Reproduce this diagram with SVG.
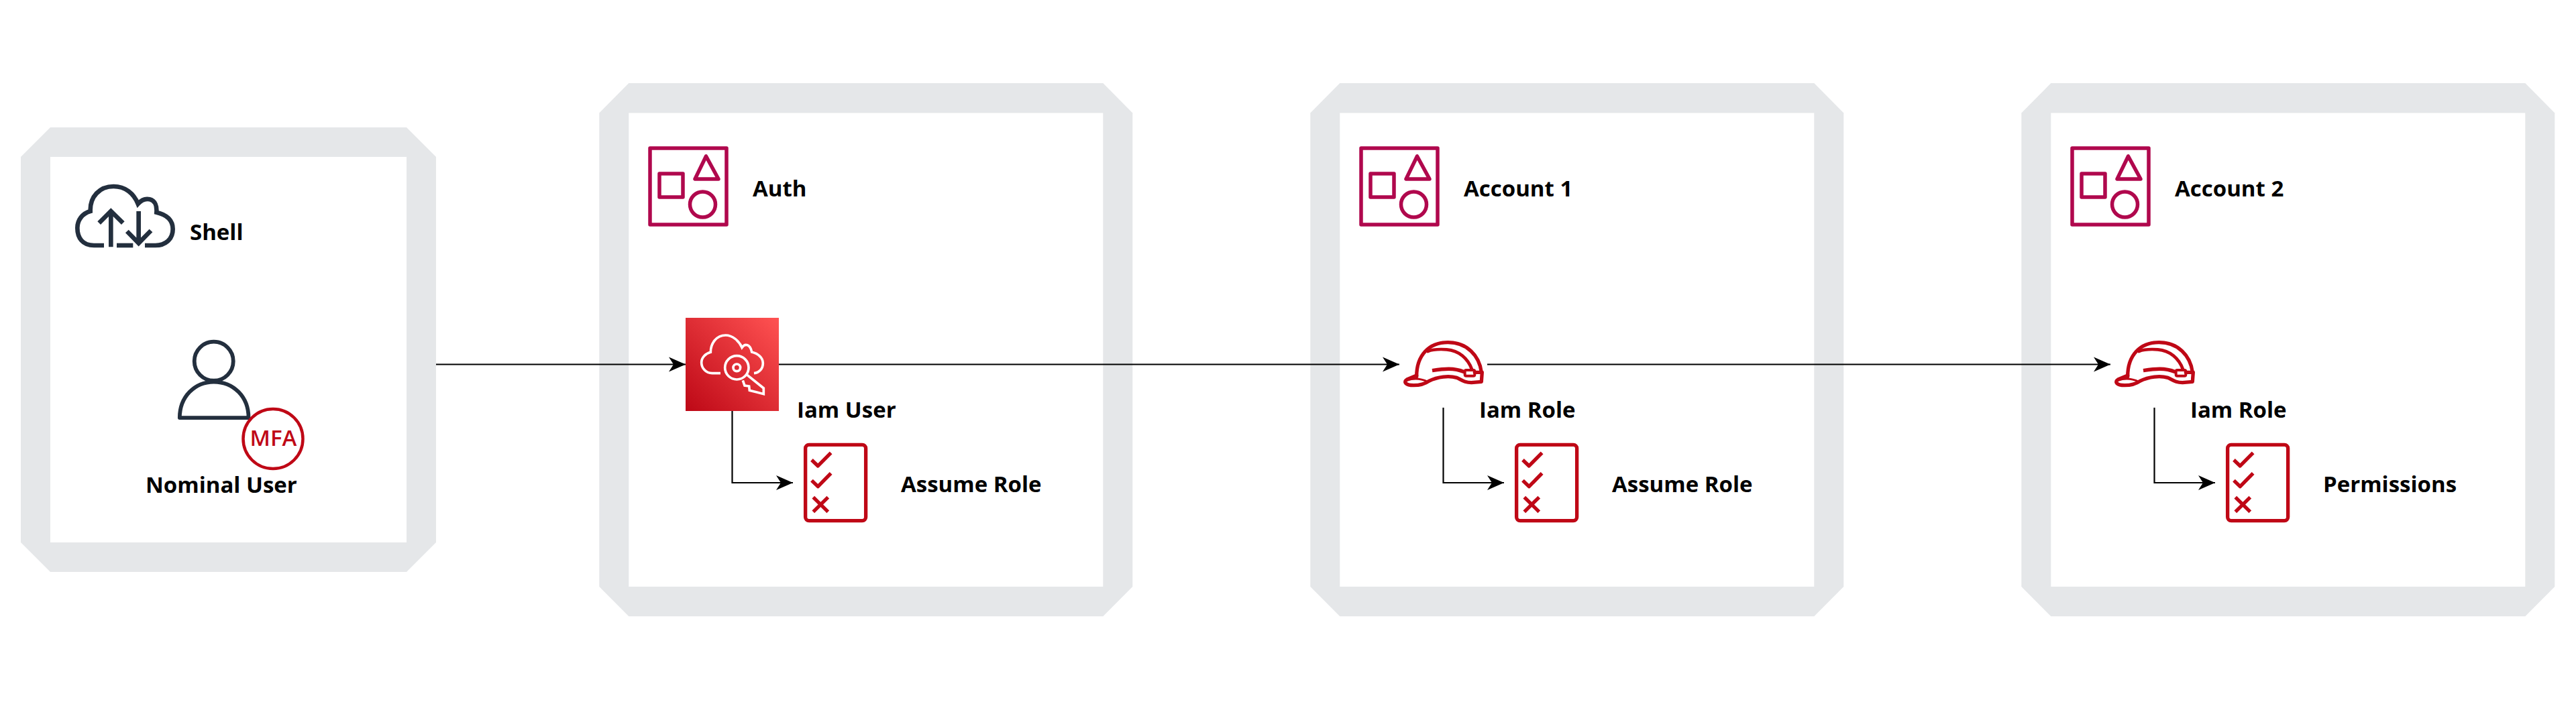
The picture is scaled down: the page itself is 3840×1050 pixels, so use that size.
<svg xmlns="http://www.w3.org/2000/svg" xmlns:xlink="http://www.w3.org/1999/xlink" width="3840" height="1050" viewBox="0 0 3840 1050">
<style>
.lbl{font-family:"Open Sans","Noto Sans","Liberation Sans",sans-serif;font-weight:700;font-size:33px;fill:#000}
.conn{fill:none;stroke:#000;stroke-width:2.2}
.acc{fill:none;stroke:#b0084d;stroke-width:5.500;stroke-linejoin:round}
.red{fill:none;stroke:#bf0816;stroke-linejoin:round}
.dark{fill:none;stroke:#232f3e}
.frame{fill:#e5e7e9}
.inner{fill:#fff}
</style>
<defs>
<marker id="arrow" markerUnits="userSpaceOnUse" markerWidth="26" markerHeight="24" refX="25" refY="12" orient="auto"><path d="M0 1 L25 12 L0 23 L7 12Z" fill="#000"/></marker>
<linearGradient id="iam" x1="0" y1="1" x2="1" y2="0"><stop offset="0" stop-color="#bd0816"/><stop offset="1" stop-color="#ff5252"/></linearGradient>
<g id="box">
<path class="frame" d="M937.300 124 H1644.300 L1688.300 168.500 V875 L1644.300 919.300 H937.300 L893.300 875 V168.500Z"/>
<rect class="inner" x="937.300" y="168.500" width="707" height="706.500"/>
</g>
<g id="accountIcon" class="acc">
<rect x="969" y="221" width="114" height="114"/>
<rect x="983" y="259" width="35" height="35"/>
<path d="M1052.500 233 L1036 267 H1071Z"/>
<circle cx="1047.500" cy="305" r="19"/>
</g>
<g id="policyIcon" transform="translate(1960,480) scale(.3333)" class="red" stroke-width="16">
<rect x="722" y="550" width="270" height="340" rx="16"/>
<path d="M750 618 L778 645 L836 586"/>
<path d="M750 710 L778 737 L836 678"/>
<path d="M757 785 L823 850 M823 785 L757 850"/>
</g>
<g id="helmetIcon" transform="translate(2020,480) scale(.3333)" class="red" stroke-width="16" stroke-linecap="round">
<path d="M275 245 C275 150 330 92 415 92 C500 92 555 150 565 225"/>
<path d="M325 132 C350 122 380 122 410 124 C465 128 505 165 522 212" stroke-width="14"/>
<path d="M275 240 L232 258 C215 268 225 284 262 284 C290 284 312 278 330 265 C370 245 420 240 455 250 C480 262 490 272 520 272 L565 268 L568 226 L535 226"/>
<path d="M232 262 C270 248 300 256 325 268" stroke-width="9"/>
<path d="M345 218 C400 210 440 205 488 224" stroke-linecap="butt"/>
<rect x="491" y="216" width="44" height="26" rx="6" stroke-width="12"/>
</g>
</defs>
<rect width="3840" height="1050" fill="#fff"/>
<g id="shell">
<path class="frame" d="M75 190 H606 L650 234 V809 L606 853 H75 L31 809 V234Z"/>
<rect class="inner" x="75" y="234" width="531" height="575"/>
<g transform="translate(90,260) scale(.3333)" class="dark" stroke-width="20">
<path d="M195 318 H150 C100 318 76 285 76 240 C76 205 98 175 134 165 C132 100 175 54 238 54 C290 54 328 85 347 132 C365 112 385 108 400 112 C425 118 432 145 430 170 C475 180 503 205 503 245 C503 290 470 318 425 318 H378"/>
<path d="M252 318 H325"/>
<path d="M226 325 V165 M173 218 L226 165 L280 218"/>
<path d="M350 165 V308 M298 255 L350 308 L405 252"/>
</g>
<text class="lbl" x="283" y="358">Shell</text>
</g>
<g id="nominal-user">
<g transform="translate(0,170) scale(.4464)" class="dark" stroke-width="13" stroke-linejoin="round">
<circle cx="714" cy="826" r="65"/>
<path d="M600 1015 C600 945 650 895 714 895 C780 895 830 945 830 1015Z"/>
</g>
<circle cx="407" cy="654.500" r="44.500" fill="#fff" stroke="#bf0816" stroke-width="4.500"/>
<text x="407.500" y="665" text-anchor="middle" font-family="'Open Sans','Noto Sans',sans-serif" font-size="33" font-weight="600" fill="#bf0816">MFA</text>
<text class="lbl" x="217" y="735">Nominal User</text>
</g>
<g id="auth">
<use href="#box"/>
<use href="#accountIcon"/>
<text class="lbl" x="1122" y="293">Auth</text>
</g>
<g id="account-1">
<use href="#box" x="1060"/>
<use href="#accountIcon" x="1060"/>
<text class="lbl" x="2182" y="293">Account 1</text>
</g>
<g id="account-2">
<use href="#box" x="2120"/>
<use href="#accountIcon" x="2120"/>
<text class="lbl" x="3242" y="293">Account 2</text>
</g>
<g id="connectors">
<path class="conn" d="M650 543.500 H1022" marker-end="url(#arrow)"/>
<path class="conn" d="M1161 543.500 H2086" marker-end="url(#arrow)"/>
<path class="conn" d="M2217 543.500 H3146" marker-end="url(#arrow)"/>
<path class="conn" d="M1091.500 613 V720 H1182" marker-end="url(#arrow)"/>
<path class="conn" d="M2151.500 608 V720 H2242" marker-end="url(#arrow)"/>
<path class="conn" d="M3211.500 608 V720 H3302" marker-end="url(#arrow)"/>
</g>
<g id="iam-user">
<rect x="1022" y="474" width="139" height="139" fill="url(#iam)"/>
<g transform="translate(1000,450) scale(.3333)" fill="none" stroke="#fff" stroke-width="11">
<path d="M222 320 H185 C155 320 137 295 137 272 C137 250 155 232 178 226 C178 185 205 150 245 150 C275 150 305 175 318 205 C332 185 355 190 362 225 C390 232 412 250 412 275 C412 300 395 318 372 320"/>
<circle cx="295" cy="295" r="53"/>
<circle cx="295" cy="295" r="16"/>
<path d="M338 325 L415 387 V413 L385 405 L352 397 L350 378 L330 375 L322 352"/>
</g>
<text class="lbl" x="1188" y="623">Iam User</text>
</g>
<g id="assume-role-1">
<use href="#policyIcon" x="-1000"/>
<text class="lbl" x="1343" y="734">Assume Role</text>
</g>
<g id="iam-role-1">
<use href="#helmetIcon"/>
<text class="lbl" x="2205" y="623">Iam Role</text>
</g>
<g id="assume-role-2">
<use href="#policyIcon" x="60"/>
<text class="lbl" x="2403" y="734">Assume Role</text>
</g>
<g id="iam-role-2">
<use href="#helmetIcon" x="1060"/>
<text class="lbl" x="3265" y="623">Iam Role</text>
</g>
<g id="permissions">
<use href="#policyIcon" x="1120"/>
<text class="lbl" x="3463" y="734">Permissions</text>
</g>
</svg>
